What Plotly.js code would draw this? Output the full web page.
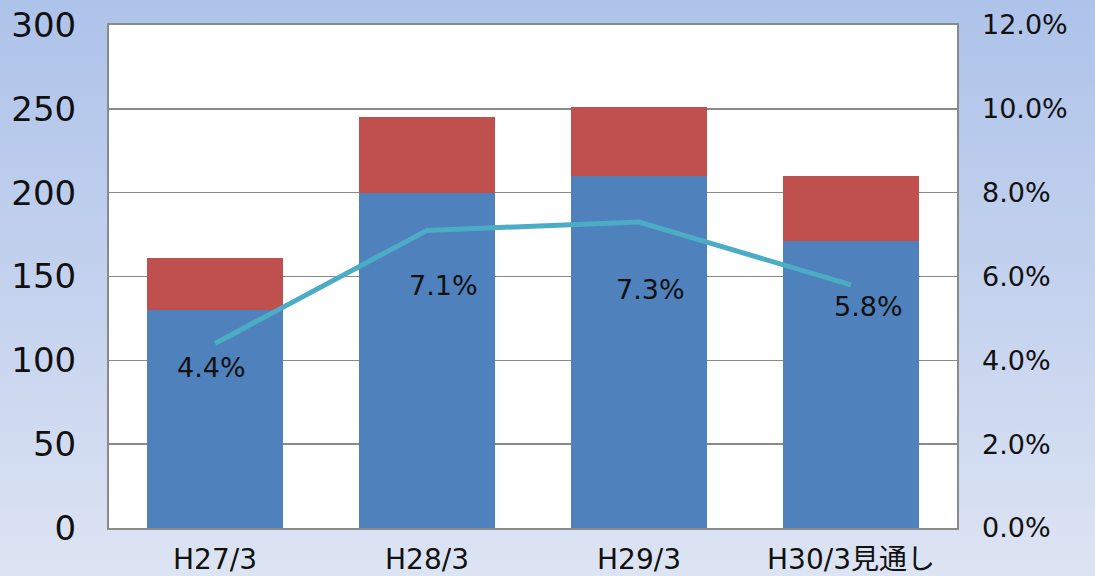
<!DOCTYPE html>
<html>
<head>
<meta charset="utf-8">
<script src="https://cdn.plot.ly/plotly-3.0.1.min.js"></script>
<style>
html,body{margin:0;padding:0;}
body{width:1095px;height:576px;background:linear-gradient(to bottom,#aec3ea 0%,#c4d2ee 50%,#dde4f3 100%);}
#chart{width:1095px;height:576px;}
</style>
</head>
<body>
<div id="chart"></div>
<script>
const categories = ['H27/3', 'H28/3', 'H29/3', 'H30/3見通し'];
const blueValues = [130, 200, 210, 171];
const redValues = [31, 45, 41, 39];
const ratePct = [0.044, 0.071, 0.073, 0.058];
const rateLabels = ['4.4%', '7.1%', '7.3%', '5.8%'];
const leftTicks = [0, 50, 100, 150, 200, 250, 300];
const rightTicks = [0, 0.02, 0.04, 0.06, 0.08, 0.10, 0.12];

// label placement offsets (px) — style only
const labelXShift = [-4, 16, 11, 17];
const labelYShift = [-24, -55, -67, -22];

const FONT = 'DejaVu Sans, Noto Sans CJK JP, sans-serif';

const traces = [
  {type: 'bar', x: categories, y: blueValues, marker: {color: '#4f81bd'}, width: 0.64, hoverinfo: 'none'},
  {type: 'bar', x: categories, y: redValues, marker: {color: '#c0504d'}, width: 0.64, hoverinfo: 'none'},
  {type: 'scatter', mode: 'lines', x: categories, y: ratePct, yaxis: 'y2',
   line: {color: '#4bacc6', width: 5}, hoverinfo: 'none'}
];

const annotations = categories.map((c, i) => ({
  x: c, y: ratePct[i], xref: 'x', yref: 'y2', text: rateLabels[i],
  showarrow: false, xshift: labelXShift[i], yshift: labelYShift[i],
  font: {family: FONT, size: 27, color: '#111'}
}));

const layout = {
  width: 1095, height: 576,
  margin: {l: 109, r: 138, t: 25, b: 48, pad: 0},
  paper_bgcolor: 'rgba(0,0,0,0)',
  plot_bgcolor: '#ffffff',
  barmode: 'stack',
  showlegend: false,
  xaxis: {
    type: 'category', showline: true, linecolor: '#8a8a8a', linewidth: 2, mirror: true,
    showgrid: false, ticks: '', tickfont: {family: FONT, size: 28, color: '#111'},
    ticklabelstandoff: 5
  },
  yaxis: {
    range: [0, 300], tickvals: leftTicks, showline: true, linecolor: '#8a8a8a', linewidth: 2,
    mirror: true, showgrid: true, gridcolor: '#8a8a8a', gridwidth: 1.5, zeroline: false, ticks: '',
    tickfont: {family: FONT, size: 34, color: '#111'}, ticklabelstandoff: 24
  },
  yaxis2: {
    overlaying: 'y', side: 'right', range: [0, 0.12], tickvals: rightTicks, tickformat: '.1%',
    showgrid: false, zeroline: false, showline: false, ticks: '',
    tickfont: {family: FONT, size: 27, color: '#111'}, ticklabelstandoff: 24
  },
  annotations: annotations
};

Plotly.newPlot('chart', traces, layout, {staticPlot: true});
</script>
</body>
</html>
